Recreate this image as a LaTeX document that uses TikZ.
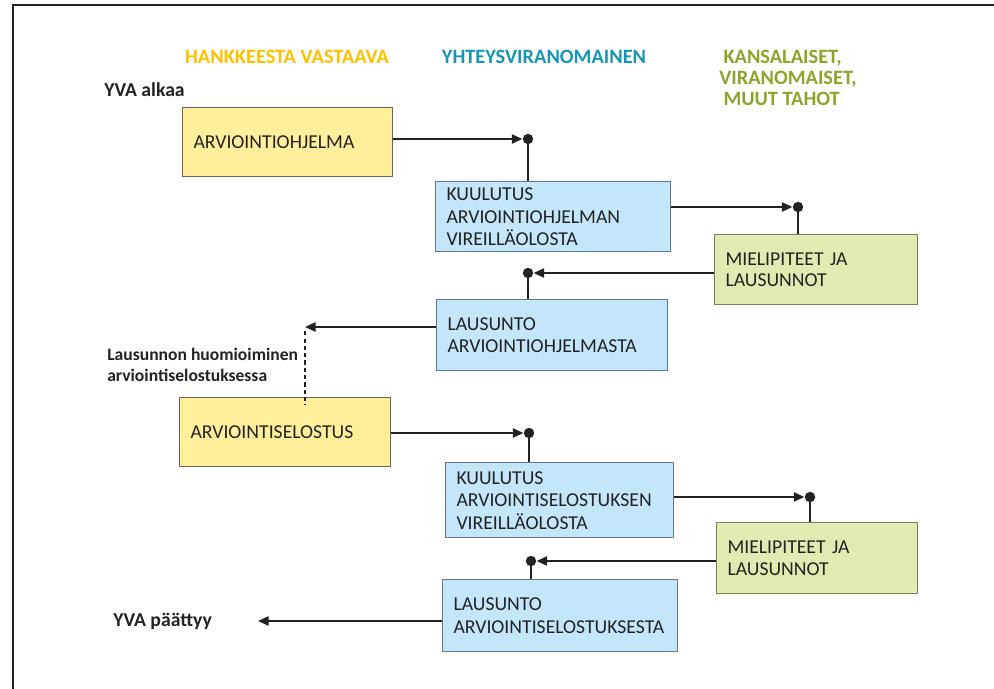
\documentclass[tikz,border=0pt]{standalone}
\usepackage{fontspec}
\setmainfont{Carlito}
\usetikzlibrary{arrows.meta}
\definecolor{cHanke}{HTML}{FFC000}
\definecolor{cHankeL}{HTML}{FFEF9A}
\definecolor{cHankeD}{HTML}{66645A}
\definecolor{cYhteys}{HTML}{1596B4}
\definecolor{cYhteysL}{HTML}{C4E6FB}
\definecolor{cYhteysD}{HTML}{62798A}
\definecolor{cKans}{HTML}{8BA52B}
\definecolor{cKansL}{HTML}{E1EBB1}
\definecolor{cKansD}{HTML}{778257}
\definecolor{cInk}{HTML}{222222}
\tikzset{
  font=\fontsize{14}{16}\selectfont,
  hdr/.style={font=\fontsize{14.5}{15}\selectfont\bfseries, align=center, inner sep=0pt},
  lbl/.style={font=\fontsize{14}{15}\selectfont\bfseries, text=cInk, align=left, anchor=west, inner sep=0pt},
  box/.style={draw=#1D, fill=#1L, line width=1pt, anchor=north west, align=left, inner xsep=0.27cm, inner ysep=2pt, text=cInk, execute at begin node={\hyphenpenalty=10000}},
  flow/.style={-{Triangle[length=7.5pt,width=6.5pt]}, line width=1.4pt, draw=cInk, shorten >=0.14cm},
  stem/.style={line width=1.4pt, draw=cInk},
}

\begin{document}
\begin{tikzpicture}[x=0.025cm, y=-0.025cm]
\useasboundingbox (0,0) rectangle (994,689);
\draw[line width=0.9pt, cInk] (13,689) -- (13,5) -- (994,5);
% headers
\node[hdr, text=cHanke] (hHanke) at (287,57) {HANKKEESTA VASTAAVA};
\node[hdr, text=cYhteys] (hYhteys) at (544,57) {YHTEYSVIRANOMAINEN};
\node[hdr, text=cKans, align=left, anchor=west] (hKans) at (719,78) {\hspace{3pt}KANSALAISET,\\VIRANOMAISET,\\\hspace{3pt}MUUT TAHOT};
\node[lbl] (alku) at (104,90) {YVA alkaa};
\node[lbl, font=\fontsize{12.5}{14.5}\selectfont\bfseries] (huom) at (107,365) {Lausunnon huomioiminen\\arviointiselostuksessa};
\node[lbl] (loppu) at (113,621) {YVA päättyy};
% ohjelma
\node[box=cHanke, text width=4.71cm, minimum height=1.725cm] (arv) at (182,107) {ARVIOINTIOHJELMA};
\node[box=cYhteys, text width=5.335cm, minimum height=1.75cm] (kuul1) at (435,181) {KUULUTUS\\ARVIOINTIOHJELMAN\\VIREILLÄOLOSTA};
\node[box=cKans, text width=4.535cm, minimum height=1.75cm, font=\fontsize{14}{15}\selectfont] (miel1) at (714,234) {MIELIPITEET JA\\LAUSUNNOT};
\node[box=cYhteys, text width=5.235cm, minimum height=1.775cm] (laus1) at (436,299) {LAUSUNTO\\ARVIOINTIOHJELMASTA};
% selostus
\node[box=cHanke, text width=4.735cm, minimum height=1.725cm] (arvs) at (179,397) {ARVIOINTISELOSTUS};
\node[box=cYhteys, text width=5.16cm, minimum height=1.875cm] (kuul2) at (445,462) {KUULUTUS\\ARVIOINTISELOSTUKSEN\\VIREILLÄOLOSTA};
\node[box=cKans, text width=4.485cm, minimum height=1.775cm, font=\fontsize{14}{15}\selectfont] (miel2) at (716,522) {MIELIPITEET JA\\LAUSUNNOT};
\node[box=cYhteys, text width=5.335cm, minimum height=1.8cm] (laus2) at (442,579) {LAUSUNTO\\ARVIOINTISELOSTUKSESTA};
% connectors
\coordinate (d1) at (528,139);
\coordinate (d2) at (798,207);
\coordinate (d3) at (528,273);
\coordinate (t4) at (305,327);
\coordinate (d5) at (529,433);
\coordinate (d6) at (810,497);
\coordinate (d7) at (531,561);
\coordinate (t8) at (258,621);
\foreach \x/\y in {arv.east/d1,kuul1.east/d2,miel1.west/d3,arvs.east/d5,kuul2.east/d6,miel2.west/d7} \draw[flow](\x|-\y)--(\y);
\foreach \x/\y in {laus1.west/t4,laus2.west/t8} \draw[flow, shorten >=0pt](\x|-\y)--(\y);
\draw[line width=1pt, draw=cInk, dash pattern=on 3pt off 2.2pt] ([yshift=-3pt]t4) -- ([yshift=-6pt]t4|-arvs.north);
\foreach \x/\y in {d1/kuul1,d2/miel1,d3/laus1,d5/kuul2,d6/miel2,d7/laus2} {\draw[stem](\x)--(\x|-\y.north); \fill[cInk](\x) circle[radius=0.13cm];}
\end{tikzpicture}
\end{document}
